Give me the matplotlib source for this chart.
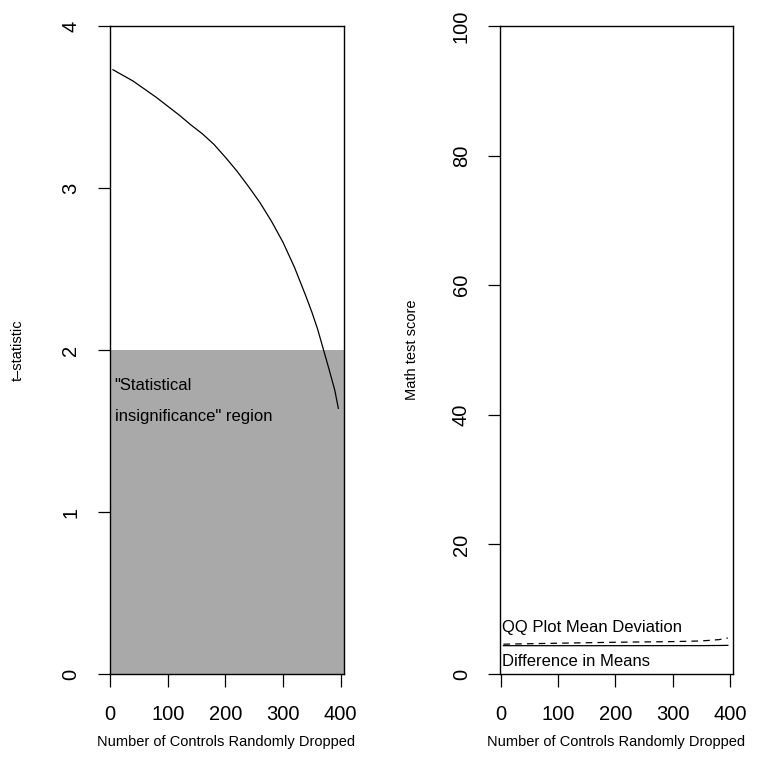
import numpy as np
import matplotlib
matplotlib.use('Agg')
import matplotlib.pyplot as plt

plt.rcParams['font.family'] = ['Liberation Sans', 'DejaVu Sans']

# values
n_dropped = [5, 20, 40, 60, 80, 100, 120, 140, 160, 180, 200, 220, 240,
             260, 280, 300, 320, 340, 350, 360, 370, 380, 390, 396]
t_stat = [3.73, 3.70, 3.66, 3.61, 3.56, 3.505, 3.45, 3.39, 3.335, 3.27, 3.19,
          3.105, 3.01, 2.91, 2.795, 2.665, 2.51, 2.33, 2.235, 2.13, 2.005,
          1.88, 1.75, 1.64]

n_dropped2 = [5, 100, 200, 300, 350, 380, 396]
diff_means = [4.37, 4.37, 4.37, 4.38, 4.38, 4.40, 4.42]
qq_dev = [4.6, 4.75, 4.9, 5.0, 5.1, 5.3, 5.55]

xticks = [0, 100, 200, 300, 400]
W, H = 781, 777

fig = plt.figure(figsize=(W / 100, H / 100), dpi=100)


def style_axes(ax, yticks):
    ax.set_xlim(-1, 405)
    ax.set_xticks(xticks)
    ax.set_yticks(yticks)
    ax.set_yticklabels([str(v) for v in yticks], rotation=90, va='center')
    ax.tick_params(axis='both', direction='out', length=9, width=0.9,
                   labelsize=14.5, color='black')
    ax.tick_params(axis='x', pad=13)
    ax.tick_params(axis='y', pad=12)
    for s in ax.spines.values():
        s.set_linewidth(1.0)
    ax.set_xlabel('Number of Controls Randomly Dropped', fontsize=10.5, labelpad=8)


# left panel
ax1 = fig.add_axes([109.5 / W, 103 / H, 234 / W, 648 / H])
ax1.axhspan(0, 2, color='#A9A9A9', lw=0)
ax1.plot(n_dropped, t_stat, color='black', lw=0.9)
ax1.set_ylim(0, 4)
style_axes(ax1, [0, 1, 2, 3, 4])
ax1.set_ylabel('t\u2013statistic', fontsize=10.5, labelpad=26)
ax1.text(8, 1.78, '"Statistical', fontsize=12, va='center', ha='left')
ax1.text(8, 1.59, 'insignificance" region', fontsize=12, va='center', ha='left')

# right panel
ax2 = fig.add_axes([500 / W, 103 / H, 233 / W, 648 / H])
ax2.plot(n_dropped2, diff_means, color='black', lw=0.9)
ax2.plot(n_dropped2, qq_dev, color='black', lw=0.9, dashes=(5.3, 4.1))
ax2.set_ylim(0, 100)
style_axes(ax2, [0, 20, 40, 60, 80, 100])
ax2.set_ylabel('Math test score', fontsize=10.5, labelpad=24)
ax2.text(2, 7.1, 'QQ Plot Mean Deviation', fontsize=12, va='center', ha='left')
ax2.text(2, 2.0, 'Difference in Means', fontsize=12, va='center', ha='left')

fig.savefig('out.png', dpi=100)
